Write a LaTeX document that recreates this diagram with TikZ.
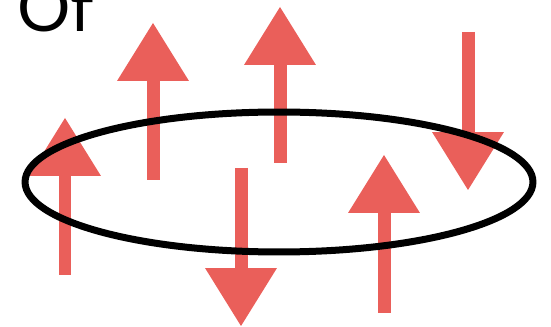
\documentclass[tikz,border=0pt]{standalone}
\usepackage{fontspec}
\setmainfont{Lato}
\usetikzlibrary{arrows.meta}
\definecolor{spinc}{HTML}{EA5F5A}
\tikzset{
  ring/.style={draw=black, line width=0.14cm},
  spin/.style={draw=spinc, line width=0.26cm, -{Triangle[length=1.16cm, width=1.44cm, line width=0pt]}},
  titletext/.style={font=\fontsize{38}{40}\selectfont, inner sep=0pt, anchor=base west},
}
% name, x, tail y, tip y (pixel units)
\newcommand{\Spin}[4]{%
  \coordinate (#1a) at (#2,#3); \coordinate (#1b) at (#2,#4);
  \draw[spin] (#1a) -- (#1b);}

\begin{document}
\begin{tikzpicture}[x=0.02cm, y=-0.02cm]
  \useasboundingbox (0,0) rectangle (551,327);
  \clip (0,0) rectangle (551,327);
  \node[titletext] (of) at (17,32) {Of};
  \Spin{s1}{65}{275}{118}
  \Spin{s2}{153}{180}{23}
  \Spin{s3}{280}{163}{7}
  \Spin{s4}{468}{32}{190}
  \Spin{s5}{241}{168}{326}
  \Spin{s6}{384}{313}{155}
  \draw[ring] (279,182) ellipse [x radius=5.08cm, y radius=1.4cm];
\end{tikzpicture}
\end{document}
